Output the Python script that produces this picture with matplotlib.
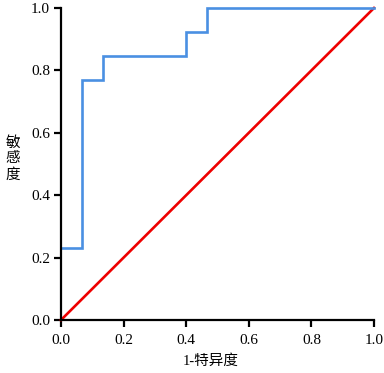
import matplotlib
matplotlib.use('Agg')
import matplotlib.pyplot as plt

# ROC data (step points)
fpr = [0.0, 1/15, 1/15, 2/15, 2/15, 6/15, 6/15, 7/15, 7/15, 1.0]
tpr = [3/13, 3/13, 10/13, 10/13, 11/13, 11/13, 12/13, 12/13, 1.0, 1.0]
ref_x = [0.0, 1.0]
ref_y = [0.0, 1.0]
ticks = [0.0, 0.2, 0.4, 0.6, 0.8, 1.0]

fam = ['Liberation Serif', 'Noto Sans CJK SC']
plt.rcParams['font.family'] = fam

fig = plt.figure(figsize=(3.84, 3.73), dpi=100)
ax = fig.add_axes([61/384, 1 - 320/373, 313/384, 312/373])

ax.plot(fpr, tpr, color='#4a90e2', linewidth=1.9, solid_joinstyle='miter', clip_on=False, zorder=3)
ax.plot(ref_x, ref_y, color='#ee0000', linewidth=1.9, clip_on=False, zorder=2)

ax.set_xlim(0, 1)
ax.set_ylim(0, 1)
ax.set_xticks(ticks)
ax.set_yticks(ticks)
ax.set_xticklabels(['%.1f' % t for t in ticks])
ax.set_yticklabels(['%.1f' % t for t in ticks])
ax.spines['top'].set_visible(False)
ax.spines['right'].set_visible(False)
for s in ['left', 'bottom']:
    ax.spines[s].set_linewidth(1.6)
    ax.spines[s].set_zorder(4)
ax.tick_params(direction='out', length=5, width=1.6, labelsize=11)
ax.tick_params(axis='x', pad=5)
ax.tick_params(axis='y', pad=3)

fig.text(13/384, 1 - 159/373, '敏\n感\n度', fontsize=10.5, ha='center', va='center', linespacing=1.25)
fig.text(211/384, 1 - 361/373, '1-特异度', fontsize=10.5, ha='center', va='center')

fig.savefig('out.png', dpi=100)
